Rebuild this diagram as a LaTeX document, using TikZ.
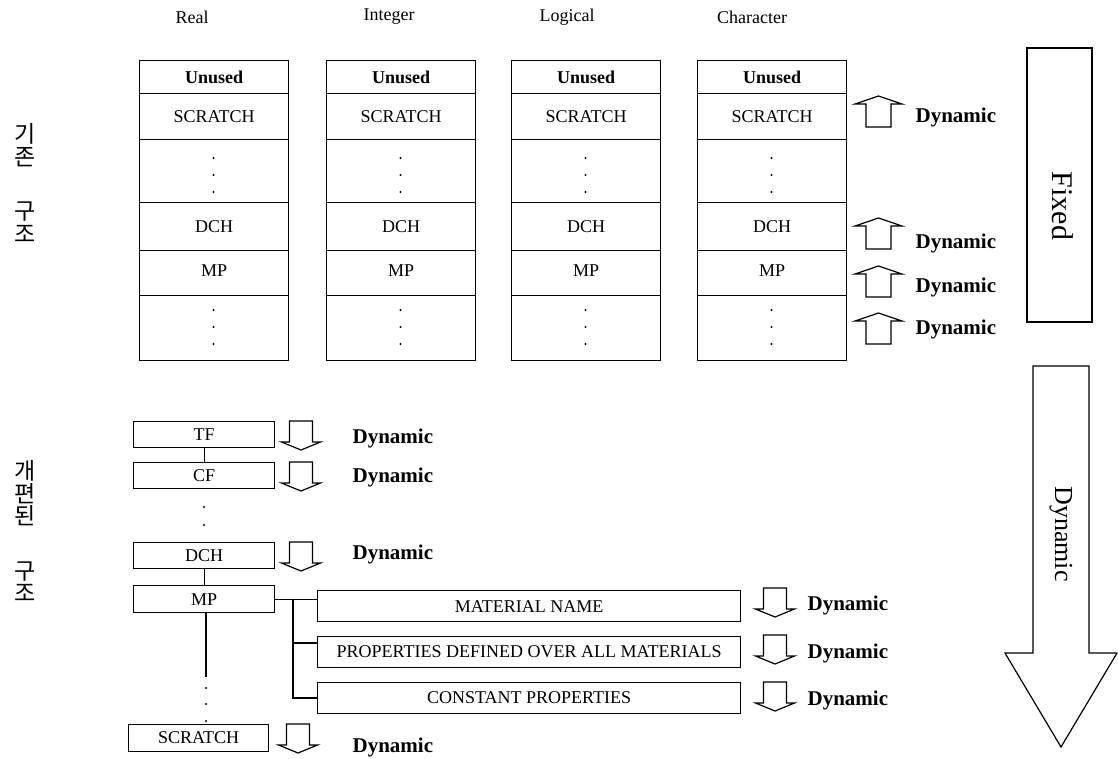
\documentclass[tikz,border=0pt]{standalone}
\usepackage{fontspec}
\setmainfont{Liberation Serif}
\newfontfamily\krfont{Noto Sans CJK KR}
\newcommand\UpArr[2]{\draw[fill=white] (#1-12.5,#2+31) -- (#1-12.5,#2+8) -- (#1-23.5,#2+8) -- (#1,#2) -- (#1+23.5,#2+8) -- (#1+12.5,#2+8) -- (#1+12.5,#2+31) -- cycle;}
\newcommand\DnArr[2]{\draw[fill=white] (#1-11.5,#2) -- (#1+11.5,#2) -- (#1+11.5,#2+21) -- (#1+19.5,#2+21) -- (#1,#2+29) -- (#1-19.5,#2+21) -- (#1-11.5,#2+21) -- cycle;}
\begin{document}
\begin{tikzpicture}[x=1pt,y=-1pt,line width=1.2pt,
  cell/.style={draw,minimum width=149pt,inner sep=0pt,anchor=north west,font=\fontsize{18}{20}\selectfont},
  hdr/.style={font=\fontsize{18}{20}\selectfont},
  lbox/.style={draw,minimum width=141pt,minimum height=26pt,inner sep=0pt,anchor=north west,font=\fontsize{18}{20}\selectfont},
  rbox/.style={draw,minimum width=423pt,minimum height=31pt,inner sep=0pt,anchor=north west,font=\fontsize{18}{20}\selectfont},
  dyn/.style={anchor=west,inner sep=0pt,font=\bfseries\fontsize{21}{23}\selectfont},
  kr/.style={align=center,inner sep=0pt,font=\krfont\fontsize{23}{22.5}\selectfont},
  dotfill/.style={fill=black}
]
\useasboundingbox (0,0) rectangle (1118,758);

% Korean side labels
\node[kr] (k1) at (25,183) {기\\존\\[32pt]구\\조};
\node[kr] (k2) at (25,531) {개\\편\\된\\[32pt]구\\조};

% top columns
\foreach \cx/\nm/\hd/\hx in {139/r/Real/192,326/i/Integer/389,511/l/Logical/567,697/c/Character/752}{
  \node[hdr] (\nm-h) at (\hx,17) {\hd};
  \node[cell,minimum height=33pt,font=\bfseries\fontsize{18}{20}\selectfont] (\nm-u) at (\cx,60) {Unused};
  \node[cell,minimum height=46pt] (\nm-s) at (\cx,93) {SCRATCH};
  \node[cell,minimum height=63pt] (\nm-d1) at (\cx,139) {};
  \node[cell,minimum height=48pt] (\nm-dch) at (\cx,202) {DCH};
  \node[cell,minimum height=45pt] (\nm-mp) at (\cx,250) {\raisebox{4pt}{MP}};
  \node[cell,minimum height=65pt] (\nm-d2) at (\cx,295) {};
  \foreach \dy in {158,175,192,310,327,344}
    \fill[dotfill] (\cx+74.5,\dy) circle[radius=1.1pt];
}

% up arrows and labels
\foreach \ty/\ly in {96/117,218/243,266/287,313/329}{
  \UpArr{878.5}{\ty}
  \node[dyn] at (915,\ly) {Dynamic};
}

% Fixed box
\node[draw,minimum width=65pt,minimum height=274pt,inner sep=0pt] (fixedbox) at (1059.5,185) {};
\node[rotate=-90,font=\fontsize{30}{32}\selectfont] (fixedtxt) at (1063,206) {Fixed};

% big Dynamic arrow
\draw[fill=white] (1033,366) -- (1089,366) -- (1089,653) -- (1117,653) -- (1061,747) -- (1005,653) -- (1033,653) -- cycle;
\node[rotate=-90,font=\fontsize{26}{28}\selectfont] (bigdyn) at (1061,534) {Dynamic};

% lower structure
\node[lbox] (tf) at (133,421) {TF};
\node[lbox] (cf) at (133,462) {CF};
\node[lbox] (dch) at (133,542) {DCH};
\node[lbox,minimum height=27pt] (mp) at (133,585) {MP};
\node[lbox,minimum width=140pt,minimum height=27pt] (scr) at (128,724) {SCRATCH};

\draw (tf) -- (cf);
\draw (dch) -- (mp);
\foreach \dy in {507,525}
  \fill[dotfill] (204,\dy) circle[radius=1.1pt];
\coordinate (mpend) at (206,677);
\draw (mp.south -| mpend) -- (mpend);
\foreach \dy in {688,704,721}
  \fill[dotfill] (206,\dy) circle[radius=1.1pt];

\node[rbox] (mat) at (317,590) {MATERIAL NAME};
\node[rbox] (prop) at (317,636) {PROPERTIES DEFINED OVER ALL MATERIALS};
\node[rbox] (const) at (317,682) {CONSTANT PROPERTIES};

\coordinate (bj) at (293,598.5);
\coordinate (bp) at (293,643);
\coordinate (bk) at (293,698);
\draw (mp.east) -- (mp.east -| mat.west);
\draw (bj) -- (bk) -- (bk -| const.west);
\draw (bp) -- (bp -| prop.west);

% down arrows and labels
\foreach \ax/\ty/\lx/\ly in {301/421/352/438,301/462/352/477,301/542/352/554,298/724/352/747,775/588/807/605,775/635/807/653,775/682/807/700}{
  \DnArr{\ax}{\ty}
  \node[dyn] at (\lx,\ly) {Dynamic};
}
\end{tikzpicture}
\end{document}
